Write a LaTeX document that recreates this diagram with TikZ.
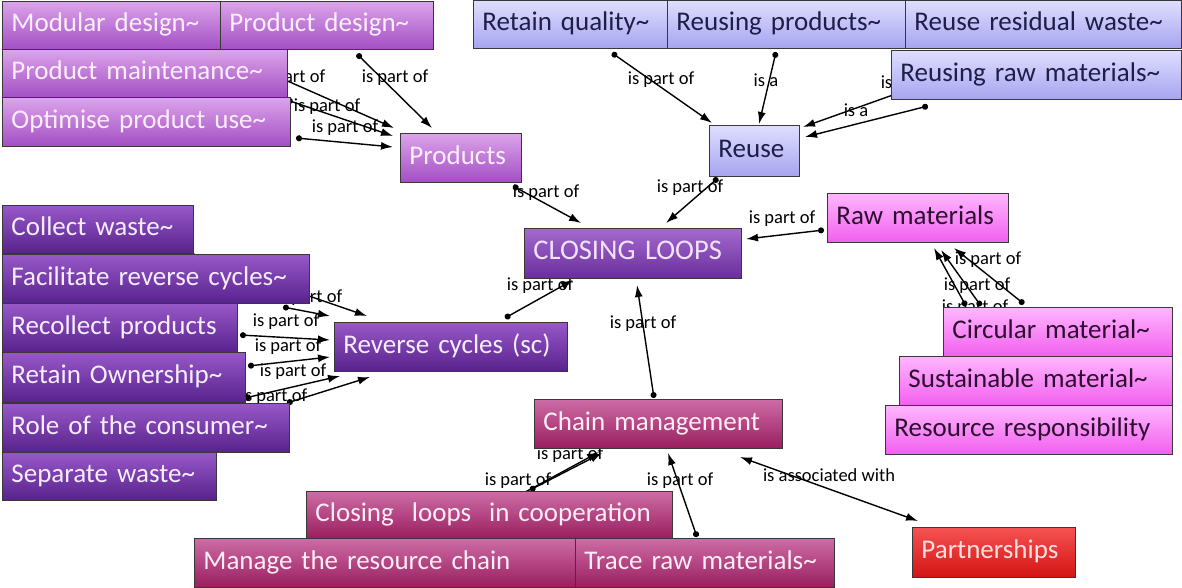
\documentclass[tikz,border=0pt]{standalone}
\usepackage{fontspec}
\setmainfont{Carlito}
\usetikzlibrary{arrows.meta}

\pgfdeclarelayer{paper}
\pgfdeclarelayer{links}
\pgfsetlayers{paper,links,main}

% concept fills: top / bottom of each gradient, and text colour
\definecolor{pTop}{HTML}{DCA3EA}\definecolor{pBot}{HTML}{A24FC4}\definecolor{pTxt}{HTML}{FDEEFC}
\definecolor{uTop}{HTML}{DEDEFF}\definecolor{uBot}{HTML}{A7A4F0}\definecolor{uTxt}{HTML}{1E1E48}
\definecolor{lTop}{HTML}{A46ACF}\definecolor{lBot}{HTML}{6A2D9B}\definecolor{lTxt}{HTML}{F1E2FA}
\definecolor{rTop}{HTML}{9858C8}\definecolor{rBot}{HTML}{57228C}\definecolor{rTxt}{HTML}{F6EEFF}
\definecolor{mTop}{HTML}{FFB6FF}\definecolor{mBot}{HTML}{F25FEE}\definecolor{mTxt}{HTML}{2E0E30}
\definecolor{cTop}{HTML}{CD6CA6}\definecolor{cBot}{HTML}{9A1E5E}\definecolor{cTxt}{HTML}{FFEEF6}
\definecolor{xTop}{HTML}{F65252}\definecolor{xBot}{HTML}{D31313}\definecolor{xTxt}{HTML}{FFE0E0}

\tikzset{
  concept/.style={draw=black!78, line width=0.9pt, anchor=north west,
    inner xsep=9pt, inner ysep=0pt, align=left,
    font=\fontsize{27}{30}\selectfont, text height=18pt, text depth=5pt},
  dims/.code args={#1/#2}{\pgfmathsetmacro\boxtw{#1-18}%
    \pgfkeysalso{text width=\boxtw pt, minimum height=#2pt}},
  cP/.style={concept, top color=pTop, bottom color=pBot, text=pTxt},
  cU/.style={concept, top color=uTop, bottom color=uBot, text=uTxt},
  cL/.style={concept, top color=lTop, bottom color=lBot, text=lTxt,
    font=\fontsize{28.5}{31}\selectfont},
  cR/.style={concept, top color=rTop, bottom color=rBot, text=rTxt},
  cM/.style={concept, top color=mTop, bottom color=mBot, text=mTxt},
  cC/.style={concept, top color=cTop, bottom color=cBot, text=cTxt},
  cX/.style={concept, top color=xTop, bottom color=xBot, text=xTxt},
  link/.style={line width=1.4pt, black,
    {Circle[length=6pt]}-{Latex[length=12pt,width=8pt]}},
  twoway/.style={line width=1.4pt, black,
    {Latex[length=12pt,width=8pt]}-{Latex[length=12pt,width=8pt]}},
  lab/.style={inner sep=0pt, text=black, font=\fontsize{18.5}{20}\selectfont}
}

\begin{document}
\begin{tikzpicture}[x=1pt,y=-1pt]
\useasboundingbox (0,0) rectangle (1182,588);
\begin{pgfonlayer}{paper}
  \fill[white] (0,0) rectangle (1182,588);
\end{pgfonlayer}

% ---------- products ----------
\node[cP, dims=220/48] (md) at (2,1) {Modular design\textasciitilde};
\node[cP, dims=213/48] (pd) at (220,1) {Product design\textasciitilde};
\node[cP, dims=285/48] (pm) at (2,49) {Product maintenance\textasciitilde};
\node[cP, dims=288/49] (op) at (2,97) {Optimise product use\textasciitilde};
\node[cP, dims=121/49] (prod) at (400,133) {Products};

% ---------- reuse ----------
\node[cU, dims=194/48] (rq) at (473,0) {Retain quality\textasciitilde};
\node[cU, dims=238/48] (rp) at (667,0) {Reusing products\textasciitilde};
\node[cU, dims=276/48] (rw) at (905,0) {Reuse residual waste\textasciitilde};
\node[cU, dims=290/49] (rr) at (891,50) {Reusing raw materials\textasciitilde};
\node[cU, dims=90/51] (reuse) at (709,125) {Reuse};

% ---------- centre ----------
\node[cL, dims=217/50] (cl) at (524,228) {CLOSING LOOPS};

% ---------- reverse cycles ----------
\node[cR, dims=191/48] (cw) at (2,205) {Collect waste\textasciitilde};
\node[cR, dims=307/49] (fr) at (2,254) {Facilitate reverse cycles\textasciitilde};
\node[cR, dims=235/49] (rcp) at (2,303) {Recollect products};
\node[cR, dims=243/50] (ro) at (2,352) {Retain Ownership\textasciitilde};
\node[cR, dims=287/49] (rcon) at (2,403) {Role of the consumer\textasciitilde};
\node[cR, dims=214/48] (sw) at (2,452) {Separate waste\textasciitilde};
\node[cR, dims=233/49] (rcy) at (334,322) {Reverse cycles (sc)};

% ---------- raw materials ----------
\node[cM, dims=181/49] (raw) at (827,193) {Raw materials};
\node[cM, dims=229/49] (cm) at (943,307) {Circular material\textasciitilde};
\node[cM, dims=273/49] (sm) at (899,356) {Sustainable material\textasciitilde};
\node[cM, dims=287/49] (rres) at (885,405) {Resource responsibility};

% ---------- chain management ----------
\node[cC, dims=248/49] (chain) at (534,399) {Chain management};
\node[cC, dims=366/47] (clc) at (306,491) {Closing\ \ loops\ \ in cooperation};
\node[cC, dims=381/49] (mrc) at (194,538) {Manage the resource chain};
\node[cC, dims=259/49] (trm) at (575,538) {Trace raw materials\textasciitilde};
\node[cX, dims=163/50] (part) at (912,527) {Partnerships};

% ---------- links, drawn beneath the concepts ----------
\begin{pgfonlayer}{links}
  % into Products
  \draw[link] ([shift={(137,53)}]pd.north west) -- ([shift={(32,-5)}]prod.north west);
  \draw[link] ([shift={(213,48)}]md.north west) -- ([shift={(-6,-5)}]prod.north west);
  \draw[link] ([shift={(285,51)}]pm.north west) -- ([shift={(-7,3)}]prod.north west);
  \draw[link] ([shift={(294,41)}]op.north west) -- ([shift={(-7,14)}]prod.north west);
  \node[lab] (l1) at (395,78) {is part of};
  \node[lab] (l2) at (292,78) {is part of};
  \node[lab] (l3) at (327,107) {is part of};
  \node[lab] (l4) at (345,128) {is part of};

  % into Reuse
  \draw[link] ([shift={(139,53)}]rq.north west) -- ([shift={(3,-2)}]reuse.north west);
  \draw[link] ([shift={(109,52)}]rp.north west) -- ([shift={(50,-1)}]reuse.north west);
  \draw[link] ([shift={(30,80)}]rw.north west) -- ([shift={(94,2)}]reuse.north west);
  \draw[link] ([shift={(37,56)}]rr.north west) -- ([shift={(96,12)}]reuse.north west);
  \node[lab] (l5) at (661,80) {is part of};
  \node[lab] (l6) at (766,80) {is a};
  \node[lab] (l7) at (856,110) {is a};
  \node[lab] (l8) at (893,82) {is a};

  % into CLOSING LOOPS
  \draw[link] ([shift={(113,53)}]prod.north west) -- ([shift={(57,-5)}]cl.north west);
  \draw[link] ([shift={(9,53)}]reuse.north west) -- ([shift={(142,-5)}]cl.north west);
  \draw[link] ([shift={(-3,37)}]raw.north west) -- ([shift={(222,11)}]cl.north west);
  \draw[link] ([shift={(171,-4)}]rcy.north west) -- ([shift={(49,52)}]cl.north west);
  \draw[link] ([shift={(120,-1)}]chain.north west) -- ([shift={(113,57)}]cl.north west);
  \node[lab] (l9) at (546,193) {is part of};
  \node[lab] (l10) at (690,188) {is part of};
  \node[lab] (l11) at (782,219) {is part of};
  \node[lab] (l12) at (540,286) {is part of};
  \node[lab] (l13) at (643,324) {is part of};

  % into Raw materials
  \draw[link] ([shift={(81,-3)}]cm.north west) -- ([shift={(127,55)}]raw.north west);
  \draw[link] ([shift={(82,-50)}]sm.north west) -- ([shift={(114,57)}]raw.north west);
  \draw[link] ([shift={(81,-99)}]rres.north west) -- ([shift={(107,55)}]raw.north west);
  \node[lab] (l14) at (988,260) {is part of};
  \node[lab] (l15) at (977,286) {is part of};
  \node[lab] (l16) at (975,308) {is part of};

  % into Reverse cycles
  \draw[link] ([shift={(188,50)}]cw.north west) -- ([shift={(33,-6)}]rcy.north west);
  \draw[link] ([shift={(281,53)}]fr.north west) -- ([shift={(-4,-6)}]rcy.north west);
  \draw[link] ([shift={(238,32)}]rcp.north west) -- ([shift={(-4,18)}]rcy.north west);
  \draw[link] ([shift={(246,14)}]ro.north west) -- ([shift={(-4,35)}]rcy.north west);
  \draw[link] ([shift={(243,-5)}]rcon.north west) -- ([shift={(6,54)}]rcy.north west);
  \draw[link] ([shift={(285,-49)}]sw.north west) -- ([shift={(36,55)}]rcy.north west);
  \node[lab] (l17) at (276,267) {is part of};
  \node[lab] (l18) at (309,298) {is part of};
  \node[lab] (l19) at (286,322) {is part of};
  \node[lab] (l20) at (288,347) {is part of};
  \node[lab] (l21) at (293,372) {is part of};
  \node[lab] (l22) at (274,397) {is part of};

  % around Chain management
  \draw[link] ([shift={(224,-1)}]clc.north west) -- ([shift={(68,54)}]chain.north west);
  \draw[link] ([shift={(206,22)}]mrc.north west) -- ([shift={(65,53)}]chain.north west);
  \draw[link] ([shift={(122,-1)}]trm.north west) -- ([shift={(134,54)}]chain.north west);
  \draw[twoway] ([shift={(206,58)}]chain.north west) -- ([shift={(6,-6)}]part.north west);
  \node[lab] (l23) at (570,455) {is part of};
  \node[lab] (l24) at (518,481) {is part of};
  \node[lab] (l25) at (680,481) {is part of};
  \node[lab] (l26) at (829,475) {is associated with};
\end{pgfonlayer}
\end{tikzpicture}
\end{document}
